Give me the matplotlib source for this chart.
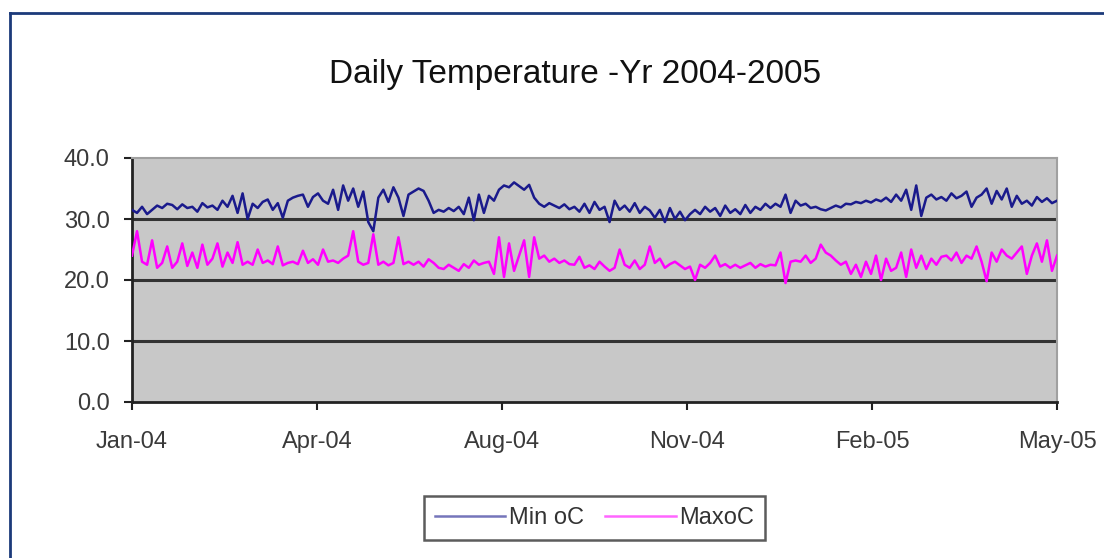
import matplotlib
matplotlib.use("Agg")
import matplotlib.pyplot as plt
from matplotlib.lines import Line2D
import numpy as np

plt.rcParams['font.family'] = ['Liberation Sans', 'DejaVu Sans']

title = "Daily Temperature -Yr 2004-2005"
x_tick_labels = ["Jan-04", "Apr-04", "Aug-04", "Nov-04", "Feb-05", "May-05"]
y_ticks = [0.0, 10.0, 20.0, 30.0, 40.0]
series_names = ["Min oC", "MaxoC"]

min_temp = [
    31.5, 31.0, 32.0, 30.8, 31.5, 32.2, 31.8, 32.5,
    32.3, 31.6, 32.4, 31.8, 32.0, 31.2, 32.6, 31.9,
    32.2, 31.5, 33.0, 32.0, 33.8, 31.0, 34.2, 30.0,
    32.5, 31.8, 32.8, 33.2, 31.5, 32.6, 30.2, 33.0,
    33.5, 33.8, 34.0, 32.0, 33.6, 34.2, 33.0, 32.5,
    34.8, 31.5, 35.5, 33.0, 35.0, 32.0, 34.5, 29.5,
    28.0, 33.5, 34.8, 32.8, 35.2, 33.5, 30.5, 34.0,
    34.5, 35.0, 34.6, 33.0, 31.0, 31.5, 31.2, 31.8,
    31.3, 32.0, 30.8, 33.5, 29.8, 34.0, 31.0, 33.8,
    33.0, 34.8, 35.5, 35.2, 36.0, 35.4, 34.8, 35.6,
    33.5, 32.5, 32.0, 32.6, 32.2, 31.8, 32.4, 31.6,
    32.0, 31.2, 32.5, 31.0, 32.8, 31.5, 32.0, 29.5,
    33.0, 31.5, 32.2, 31.2, 32.6, 31.0, 32.0, 31.4,
    30.2, 31.5, 29.5, 31.8, 30.0, 31.2, 29.8, 30.8,
    31.5, 30.8, 32.0, 31.2, 31.8, 30.5, 32.2, 31.0,
    31.6, 30.8, 32.3, 31.0, 32.0, 31.5, 32.5, 31.8,
    32.5, 32.0, 34.0, 31.0, 33.0, 32.2, 32.5, 31.8,
    32.0, 31.6, 31.4, 31.8, 32.2, 31.9, 32.5, 32.4,
    32.8, 32.6, 33.0, 32.7, 33.2, 32.9, 33.5, 32.8,
    34.0, 33.0, 34.8, 31.5, 35.5, 30.5, 33.5, 34.0,
    33.2, 33.6, 33.0, 34.2, 33.4, 33.8, 34.5, 32.0,
    33.5, 34.0, 35.0, 32.5, 34.6, 33.2, 35.0, 32.0,
    33.8, 32.5, 33.0, 32.2, 33.6, 32.8, 33.4, 32.6, 33.0,
]

max_temp = [
    24.0, 28.0, 23.0, 22.5, 26.5, 22.0, 22.8, 25.5,
    22.0, 23.0, 26.0, 22.3, 24.5, 22.0, 25.8, 22.5,
    23.5, 26.0, 22.2, 24.5, 22.8, 26.2, 22.5, 23.0,
    22.5, 25.0, 22.8, 23.2, 22.6, 25.5, 22.4, 22.8,
    23.0, 22.6, 24.8, 22.8, 23.4, 22.5, 25.0, 23.0,
    23.2, 22.8, 23.5, 24.0, 28.0, 23.0, 22.5, 22.8,
    27.5, 22.5, 23.0, 22.4, 22.8, 27.0, 22.6, 23.0,
    22.5, 23.0, 22.2, 23.4, 22.8, 22.0, 21.8, 22.5,
    22.0, 21.5, 22.6, 22.0, 23.2, 22.5, 22.8, 23.0,
    21.0, 27.0, 20.5, 26.0, 21.5, 24.0, 26.5, 20.5,
    27.0, 23.5, 24.0, 23.0, 23.5, 22.8, 23.2, 22.6,
    22.5, 23.8, 22.0, 22.4, 21.8, 23.0, 22.2, 21.5,
    22.0, 25.0, 22.5, 22.0, 23.2, 21.8, 22.5, 25.5,
    22.8, 23.5, 22.0, 22.6, 23.0, 22.4, 21.8, 22.2,
    20.0, 22.5, 22.0, 22.8, 24.0, 22.2, 22.6, 22.0,
    22.5, 22.0, 22.4, 22.8, 22.0, 22.6, 22.2, 22.5,
    22.4, 24.5, 19.5, 23.0, 23.2, 23.0, 24.0, 22.8,
    23.5, 25.8, 24.5, 24.0, 23.2, 22.5, 23.0, 21.0,
    22.5, 20.5, 23.0, 21.0, 24.0, 20.0, 23.5, 21.5,
    22.0, 24.5, 20.5, 25.0, 22.0, 24.0, 21.8, 23.5,
    22.5, 23.8, 24.0, 23.2, 24.5, 22.8, 24.0, 23.5,
    25.5, 23.0, 19.8, 24.5, 23.0, 25.0, 24.0, 23.5,
    24.5, 25.5, 21.0, 24.0, 26.0, 23.0, 26.5, 21.5, 24.0,
]

W, H = 1104, 558
fig = plt.figure(figsize=(W / 100, H / 100), dpi=100)
fig.patch.set_facecolor("white")

# outer chart border (dark blue)
border_color = "#1c3a7a"
fig.add_artist(Line2D([10 / W, 10 / W], [1 - 13 / H, 0], transform=fig.transFigure,
                      color=border_color, lw=2))
fig.add_artist(Line2D([10 / W, 1], [1 - 13 / H, 1 - 13 / H], transform=fig.transFigure,
                      color=border_color, lw=2))

ax = fig.add_axes([132 / W, 1 - 402 / H, 925 / W, 244 / H])
ax.set_facecolor("#c8c8c8")

n = len(min_temp)
x = np.arange(n)
ax.plot(x, min_temp, color="#1a1a8c", lw=1.8, label=series_names[0], zorder=3)
ax.plot(x, max_temp, color="#ff00ff", lw=1.8, label=series_names[1], zorder=3)

ax.set_xlim(0, n - 1)
ax.set_ylim(0, 40)

for yv in [10, 20, 30]:
    ax.axhline(yv, color="#333333", lw=2.2, zorder=2)

ax.set_yticks(y_ticks)
ax.set_yticklabels([f"{v:.1f}" for v in y_ticks])
ax.set_xticks(np.linspace(0, n - 1, len(x_tick_labels)))
ax.set_xticklabels(x_tick_labels)

for side in ["top", "right"]:
    ax.spines[side].set_color("#a0a0a0")
    ax.spines[side].set_linewidth(1.5)
for side in ["left", "bottom"]:
    ax.spines[side].set_color("#222222")
    ax.spines[side].set_linewidth(2)

ax.tick_params(axis="both", direction="out", length=6, width=1.5, color="#222222",
               labelsize=17, labelcolor="#3a3a3a")
ax.tick_params(axis="y", pad=10)
ax.tick_params(axis="x", pad=15)

fig.text(575 / W, 1 - 75 / H, title, ha="center", va="center", fontsize=24,
         color="#111111")

leg = ax.legend(loc="center", bbox_to_anchor=(594.5 / W, 1 - 518 / H),
                bbox_transform=fig.transFigure, ncol=2, fontsize=17,
                frameon=True, fancybox=False, edgecolor="#333333",
                handlelength=3.0, handletextpad=0.15, columnspacing=0.9,
                borderpad=0.45)
leg.get_frame().set_linewidth(1.8)
for t in leg.get_texts():
    t.set_color("#333333")
for h in leg.get_lines():
    h.set_alpha(0.6)

fig.savefig("out.png", dpi=100, facecolor="white")
